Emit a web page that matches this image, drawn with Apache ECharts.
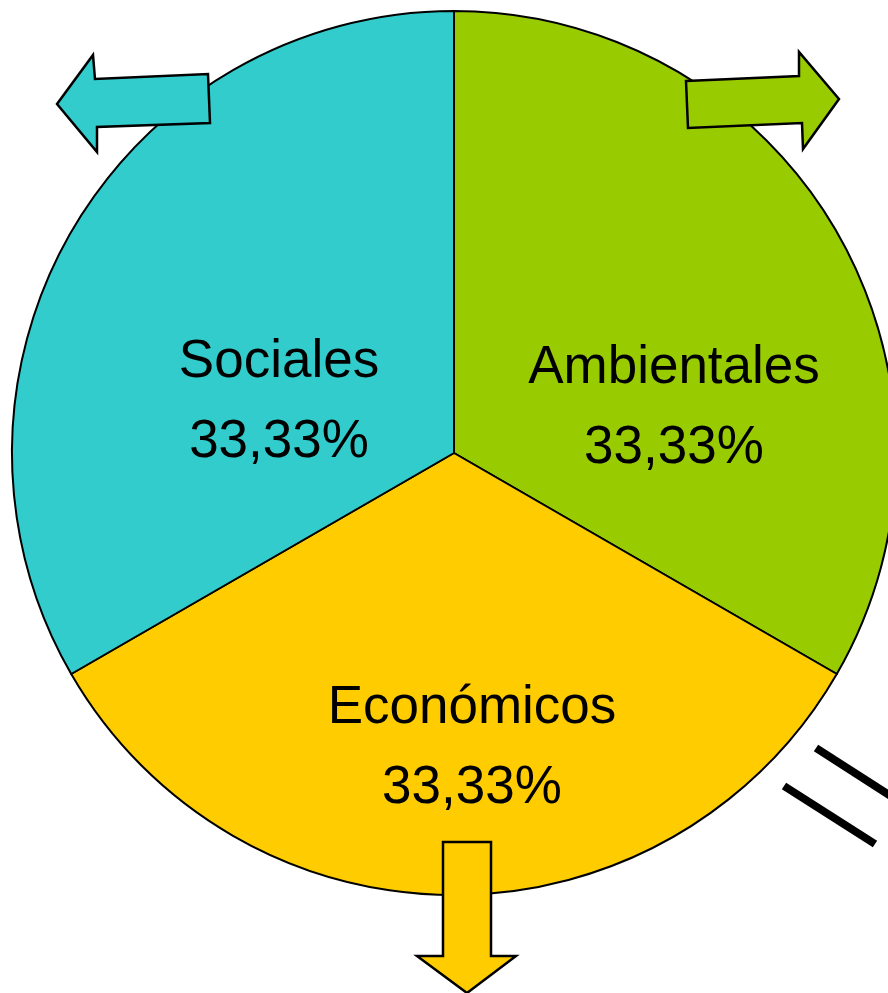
<!DOCTYPE html>
<html>
<head>
<meta charset="utf-8">
<title>Sociales / Ambientales / Económicos</title>
<script src="https://cdn.jsdelivr.net/npm/echarts@6/dist/echarts.min.js"></script>
<style>
    html, body { margin: 0; padding: 0; background: #fff; }
    #main { width: 888px; height: 993px; }
</style>
</head>
<body>
<div id="main"></div>
<script>
// datos
var categorias = ['Ambientales', 'Económicos', 'Sociales'];
var valores = [33.33, 33.33, 33.33];
var colores = ['#99CC00', '#FFCC00', '#33CCCC'];

(function () {
    var myChart = echarts.init(document.getElementById('main'));

    // desplazamiento de cada etiqueta desde su posición interior
    var offsets = [[26, 67], [18, 71], [19, 61]];

    var data = categorias.map(function (c, i) {
        return {
            name: c,
            value: valores[i],
            itemStyle: { color: colores[i] },
            label: { offset: offsets[i] }
        };
    });

    var arrowStyle = function (color) {
        return { fill: color, stroke: '#000', lineWidth: 2.5, lineJoin: 'miter' };
    };

    var option = {
        backgroundColor: '#fff',
        animation: false,
        series: [
            {
                type: 'pie',
                center: [454, 453],
                radius: 442,
                startAngle: 90,
                clockwise: true,
                silent: true,
                itemStyle: { borderColor: '#000', borderWidth: 2 },
                label: {
                    show: true,
                    position: 'inside',
                    color: '#000',
                    fontFamily: 'Arial, "Liberation Sans", sans-serif',
                    fontSize: 53,
                    lineHeight: 80,
                    formatter: function (p) {
                        return p.name + '\n' + p.value.toFixed(2).replace('.', ',') + '%';
                    }
                },
                labelLine: { show: false },
                data: data
            }
        ],
        graphic: [
            {   // flecha izquierda
                type: 'polygon', z: 100,
                shape: { points: [[57, 104], [93, 55], [95, 79], [208, 74], [210, 123], [97, 127], [97, 152]] },
                style: arrowStyle('#33CCCC')
            },
            {   // flecha derecha
                type: 'polygon', z: 100,
                shape: { points: [[686, 81], [799, 76], [799, 52], [839, 99], [803, 149], [802, 123], [688, 128]] },
                style: arrowStyle('#99CC00')
            },
            {   // flecha abajo
                type: 'polygon', z: 100,
                shape: { points: [[443, 842], [491, 842], [491, 956], [516, 956], [467, 993], [417, 956], [443, 956]] },
                style: arrowStyle('#FFCC00')
            },
            {
                type: 'line', z: 100,
                shape: { x1: 816, y1: 748, x2: 900, y2: 802 },
                style: { stroke: '#000', lineWidth: 8 }
            },
            {
                type: 'line', z: 100,
                shape: { x1: 784, y1: 786, x2: 875, y2: 844 },
                style: { stroke: '#000', lineWidth: 8 }
            }
        ]
    };

    myChart.setOption(option);

    window.addEventListener('resize', function () {
        myChart.resize();
    });
})();
</script>
</body>
</html>
